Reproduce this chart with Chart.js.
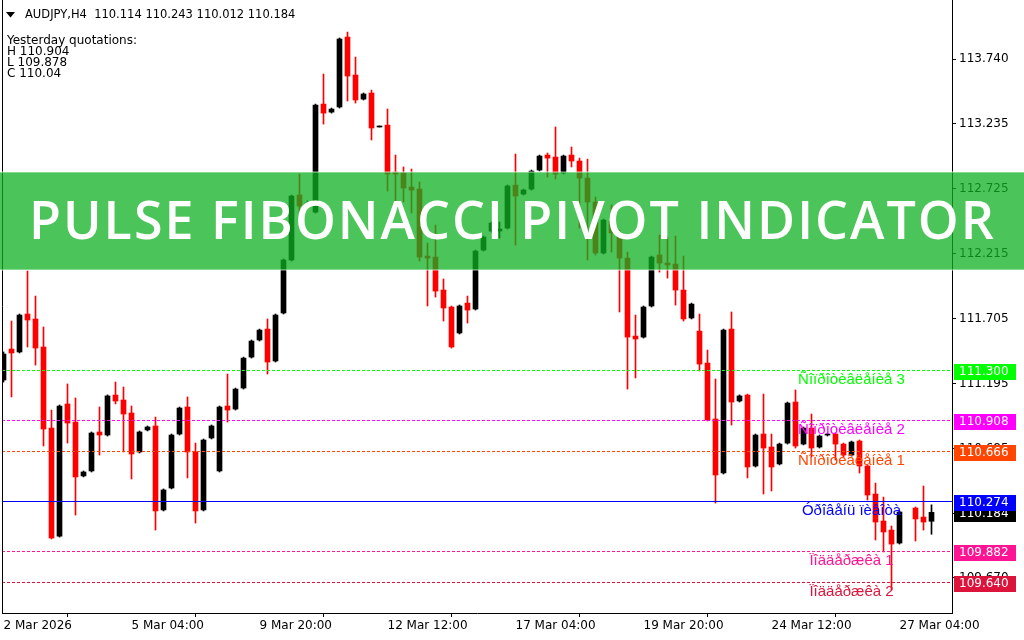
<!DOCTYPE html>
<html>
<head>
<meta charset="utf-8">
<title>AUDJPY,H4 - Pulse Fibonacci Pivot Indicator</title>
<script src="https://cdn.jsdelivr.net/npm/chart.js@4.4.1/dist/chart.umd.min.js"></script>
<style>
  html, body { margin: 0; padding: 0; background: #fff; }
  #wrap { width: 1024px; height: 640px; }
</style>
</head>
<body>
<div id="wrap"><canvas id="chart" width="1024" height="640"></canvas></div>
<script>
// H4 candles, one entry per bar (bar 113 has no data on the chart)
const opens = [
  111.223, 111.466, 111.443, 111.741, 111.702, 111.482, 110.846, 109.998, 111.035, 110.893,
  110.470, 110.509, 110.815, 110.791, 111.105, 111.066, 110.964, 110.658, 110.831, 110.862,
  110.203, 110.375, 110.799, 111.011, 110.658, 110.203, 110.768, 110.509, 111.019, 110.995,
  111.160, 111.403, 111.537, 111.623, 111.372, 111.749, 112.165, 112.675, 112.597, 112.541,
  113.389, 113.326, 113.366, 113.915, 113.617, 113.428, 113.476, 113.209, 113.224, 112.855,
  112.848, 112.738, 112.722, 112.196, 112.188, 111.929, 111.796, 111.592, 111.827, 111.780,
  112.243, 112.392, 112.392, 112.416, 112.753, 112.683, 112.722, 112.871, 112.989, 112.973,
  112.848, 112.989, 112.942, 112.808, 112.620, 112.220, 112.471, 112.377, 112.180, 111.568,
  111.560, 111.804, 112.204, 112.141, 112.133, 111.929, 111.710, 111.607, 111.356, 110.917,
  110.493, 111.623, 111.058, 111.105, 110.548, 110.799, 110.697, 110.564, 110.728, 111.050,
  110.720, 110.846, 110.697, 110.791, 110.799, 110.720, 110.634, 110.744, 110.548, 110.328,
  110.116, 110.045, 109.943, null, 110.218, 110.147, 110.114
];
const highs = [
  111.443, 111.686, 111.741, 112.079, 111.882, 111.639, 110.987, 111.027, 111.192, 111.082,
  110.509, 110.815, 111.011, 111.106, 111.207, 111.168, 111.019, 110.823, 110.862, 110.932,
  110.368, 110.799, 111.011, 111.090, 110.728, 110.760, 110.870, 111.019, 111.270, 111.160,
  111.403, 111.537, 111.623, 111.702, 111.741, 112.173, 112.675, 112.840, 112.628, 113.389,
  113.625, 113.358, 113.908, 113.954, 113.758, 113.476, 113.499, 113.217, 113.350, 112.989,
  112.895, 112.879, 112.777, 112.298, 112.439, 112.016, 111.804, 111.812, 111.882, 112.243,
  112.353, 112.463, 112.463, 112.754, 112.997, 112.722, 112.871, 112.989, 113.005, 113.209,
  112.989, 113.052, 112.965, 112.957, 112.659, 112.486, 112.597, 112.400, 112.227, 111.733,
  111.804, 112.196, 112.361, 112.345, 112.353, 112.196, 111.827, 111.741, 111.458, 111.231,
  111.623, 111.757, 111.106, 111.113, 110.799, 111.113, 110.799, 110.728, 111.050, 111.145,
  110.854, 110.956, 110.791, 110.807, 110.807, 110.728, 110.744, 110.752, 110.556, 110.414,
  110.304, 110.077, 110.195, null, 110.226, 110.391, 110.243
];
const lows = [
  111.207, 111.090, 111.435, 111.482, 111.340, 110.705, 109.975, 109.990, 110.728, 110.163,
  110.462, 110.501, 110.634, 110.783, 111.035, 110.658, 110.446, 110.650, 110.823, 110.045,
  110.195, 110.368, 110.791, 110.454, 110.100, 110.195, 110.760, 110.501, 110.893, 110.987,
  111.152, 111.395, 111.529, 111.270, 111.364, 111.741, 112.157, 112.518, 112.581, 112.533,
  113.232, 113.318, 113.358, 113.413, 113.397, 113.421, 113.107, 113.209, 112.706, 112.612,
  112.620, 112.534, 112.157, 111.804, 111.874, 111.686, 111.474, 111.584, 111.670, 111.772,
  112.235, 112.384, 112.337, 112.408, 112.282, 112.675, 112.714, 112.863, 112.816, 112.801,
  112.840, 112.895, 112.416, 112.165, 112.204, 112.212, 112.227, 111.757, 111.152, 111.239,
  111.552, 111.796, 112.070, 112.023, 111.811, 111.686, 111.702, 111.294, 110.901, 110.257,
  110.485, 110.870, 111.050, 110.454, 110.540, 110.328, 110.352, 110.556, 110.720, 110.689,
  110.713, 110.619, 110.689, 110.783, 110.595, 110.619, 110.626, 110.493, 110.281, 109.967,
  109.873, 109.574, 109.935, null, 109.959, 110.045, 110.012
];
const closes = [
  111.427, 111.435, 111.733, 111.694, 111.474, 110.838, 109.983, 111.019, 110.885, 110.462,
  110.501, 110.807, 110.791, 111.098, 111.058, 110.956, 110.642, 110.815, 110.854, 110.195,
  110.360, 110.791, 111.003, 110.658, 110.195, 110.752, 110.862, 111.011, 110.987, 111.152,
  111.395, 111.529, 111.615, 111.364, 111.733, 112.165, 112.667, 112.588, 112.612, 113.381,
  113.318, 113.350, 113.900, 113.609, 113.421, 113.468, 113.201, 113.217, 112.840, 112.840,
  112.730, 112.714, 112.188, 112.180, 111.921, 111.788, 111.482, 111.804, 111.772, 112.235,
  112.345, 112.455, 112.408, 112.746, 112.667, 112.714, 112.863, 112.981, 112.965, 112.840,
  112.981, 112.942, 112.808, 112.620, 112.220, 112.478, 112.377, 112.180, 111.560, 111.545,
  111.796, 112.188, 112.141, 112.126, 111.929, 111.702, 111.819, 111.348, 110.909, 110.477,
  111.615, 111.050, 111.098, 110.540, 110.791, 110.689, 110.540, 110.720, 111.042, 110.705,
  110.846, 110.689, 110.783, 110.799, 110.720, 110.634, 110.736, 110.548, 110.320, 110.108,
  110.030, 109.935, 110.187, null, 110.132, 110.108, 110.184
];

const timeLabels = ['2 Mar 2026', '5 Mar 04:00', '9 Mar 20:00', '12 Mar 12:00', '17 Mar 04:00', '19 Mar 20:00', '24 Mar 12:00', '27 Mar 04:00'];
const timeLabelBars = [0, 16, 32, 48, 64, 80, 96, 112];
const priceTicks = [113.740, 113.235, 112.725, 112.215, 111.705, 111.195, 110.685, 110.175, 109.670];

const levelNames = ['Ñîïðîòèâëåíèå 3', 'Ñîïðîòèâëåíèå 2', 'Ñîïðîòèâëåíèå 1', 'Óðîâåíü ïèâîòà', 'Ïîääåðæêà 1', 'Ïîääåðæêà 2'];
const levelValues = [111.300, 110.908, 110.666, 110.274, 109.882, 109.640];
const levelColors = ['#00ff00', '#ff00ff', '#ff4500', '#0000ff', '#ff1493', '#dc143c'];
const levelDashed = [true, true, true, false, true, true];

const symbolTitle = 'AUDJPY,H4';
const lastQuote = [110.114, 110.243, 110.012, 110.184];
const yesterdayKeys = ['H', 'L', 'C'];
const yesterdayValues = ['110.904', '109.878', '110.04'];
const bannerText = 'PULSE FIBONACCI PIVOT INDICATOR';

const X_MIN = -0.1875, X_MAX = 118.5625;
const Y_MIN = 109.394, Y_MAX = 114.206;
const LABEL_BAR = 106;
const MT_FONT = '"DejaVu Sans", Verdana, sans-serif';

const bars = opens.map((o, i) => i).filter(i => opens[i] !== null);
const candleColor = i => (closes[i] >= opens[i] ? '#000000' : '#ff0000');

// pivot levels: lines on top of the candles, crisp on the pixel grid
const levels = {
  id: 'levels',
  afterDatasetsDraw(chart) {
    const { ctx, chartArea: a, scales: { y } } = chart;
    ctx.save();
    ctx.beginPath();
    ctx.rect(a.left, a.top, a.right - a.left, a.bottom - a.top);
    ctx.clip();
    ctx.lineWidth = 1;
    levelValues.forEach((v, k) => {
      const py = Math.round(y.getPixelForValue(v)) + 0.5;
      ctx.strokeStyle = levelColors[k];
      ctx.setLineDash(levelDashed[k] ? [3, 2] : []);
      ctx.beginPath();
      ctx.moveTo(a.left, py);
      ctx.lineTo(a.right, py);
      ctx.stroke();
    });
    ctx.restore();
  }
};

const overlay = {
  id: 'overlay',
  afterDraw(chart) {
    const { ctx, chartArea: a, scales: { x, y } } = chart;
    ctx.save();

    // left frame
    ctx.strokeStyle = '#000';
    ctx.lineWidth = 1;
    ctx.beginPath();
    ctx.moveTo(a.left + 0.5, 0);
    ctx.lineTo(a.left + 0.5, a.bottom);
    ctx.stroke();

    // level captions
    ctx.font = '15px "Liberation Sans", Arial, sans-serif';
    ctx.textAlign = 'center';
    ctx.textBaseline = 'middle';
    levelValues.forEach((v, k) => {
      ctx.fillStyle = levelColors[k];
      ctx.fillText(levelNames[k], x.getPixelForValue(LABEL_BAR), y.getPixelForValue(v) + 10);
    });

    // price boxes on the right scale
    ctx.font = '12px ' + MT_FONT;
    ctx.textAlign = 'left';
    const box = (v, bg) => {
      const py = Math.round(y.getPixelForValue(v));
      ctx.fillStyle = bg;
      ctx.fillRect(a.right + 2, py - 6, 62, 16);
      ctx.fillStyle = '#fff';
      ctx.fillText(v.toFixed(3), a.right + 7, py + 2);
    };
    box(lastQuote[3], '#000000');
    levelValues.forEach((v, k) => box(v, levelColors[k]));

    // header texts
    ctx.fillStyle = '#000';
    ctx.beginPath();
    ctx.moveTo(6, 12); ctx.lineTo(15, 12); ctx.lineTo(10.5, 17.5); ctx.closePath();
    ctx.fill();
    ctx.textBaseline = 'alphabetic';
    ctx.font = '11.5px ' + MT_FONT;
    ctx.fillText(symbolTitle + '  ' + lastQuote.map(v => v.toFixed(3)).join(' '), 25, 18);
    ctx.font = '12px ' + MT_FONT;
    ctx.fillText('Yesterday quotations:', 7, 44);
    yesterdayKeys.forEach((k, i) => ctx.fillText(k + ' ' + yesterdayValues[i], 7, 55 + i * 11));

    // banner
    ctx.fillStyle = 'rgba(15, 176, 35, 0.75)';
    ctx.fillRect(0, 172, chart.width, 98);
    ctx.fillStyle = 'rgba(255, 255, 255, 0.35)';
    ctx.fillRect(0, 171, chart.width, 2);
    ctx.fillRect(0, 269, chart.width, 2);
    ctx.fillStyle = '#ffffff';
    ctx.font = '600 52px "Open Sans", sans-serif';
    const w0 = ctx.measureText(bannerText).width;
    const target = 965;
    ctx.letterSpacing = ((target - w0) / (bannerText.length - 1)).toFixed(2) + 'px';
    ctx.textAlign = 'left';
    ctx.fillText(bannerText, 29, 239);
    ctx.restore();
  }
};

new Chart(document.getElementById('chart'), {
  type: 'bar',
  data: {
    datasets: [
      {
        label: 'wicks',
        data: bars.map(i => ({ x: i, y: [lows[i], highs[i]] })),
        backgroundColor: bars.map(candleColor),
        barThickness: 1,
        grouped: false,
        order: 3
      },
      {
        label: 'bodies',
        data: bars.map(i => ({ x: i, y: [opens[i], closes[i]] })),
        backgroundColor: bars.map(candleColor),
        barThickness: 5,
        minBarLength: 1,
        grouped: false,
        order: 2
      }
    ]
  },
  options: {
    responsive: false,
    animation: false,
    layout: { padding: { left: 2, top: 0, right: 0, bottom: 0 } },
    plugins: { legend: { display: false }, tooltip: { enabled: false } },
    scales: {
      x: {
        type: 'linear',
        min: X_MIN,
        max: X_MAX,
        offset: false,
        afterBuildTicks: s => { s.ticks = timeLabelBars.map(v => ({ value: v })); },
        afterFit: s => { s.height = 27; s.paddingLeft = 0; s.paddingRight = 0; },
        grid: { display: true, drawOnChartArea: false, tickLength: 4, color: '#000' },
        border: { display: true, color: '#000' },
        ticks: {
          align: 'start',
          autoSkip: false,
          maxRotation: 0,
          padding: 2,
          color: '#000',
          font: { family: MT_FONT, size: 12 },
          callback: v => timeLabels[timeLabelBars.indexOf(v)]
        }
      },
      y: {
        position: 'right',
        min: Y_MIN,
        max: Y_MAX,
        afterBuildTicks: s => { s.ticks = priceTicks.map(v => ({ value: v })); },
        afterFit: s => { s.width = 72; s.paddingTop = 0; s.paddingBottom = 0; },
        grid: { display: true, drawOnChartArea: false, tickLength: 4, color: '#000' },
        border: { display: true, color: '#000' },
        ticks: {
          padding: 3,
          color: '#000',
          font: { family: MT_FONT, size: 12 },
          callback: v => v.toFixed(3)
        }
      }
    }
  },
  plugins: [levels, overlay]
});
</script>
</body>
</html>
